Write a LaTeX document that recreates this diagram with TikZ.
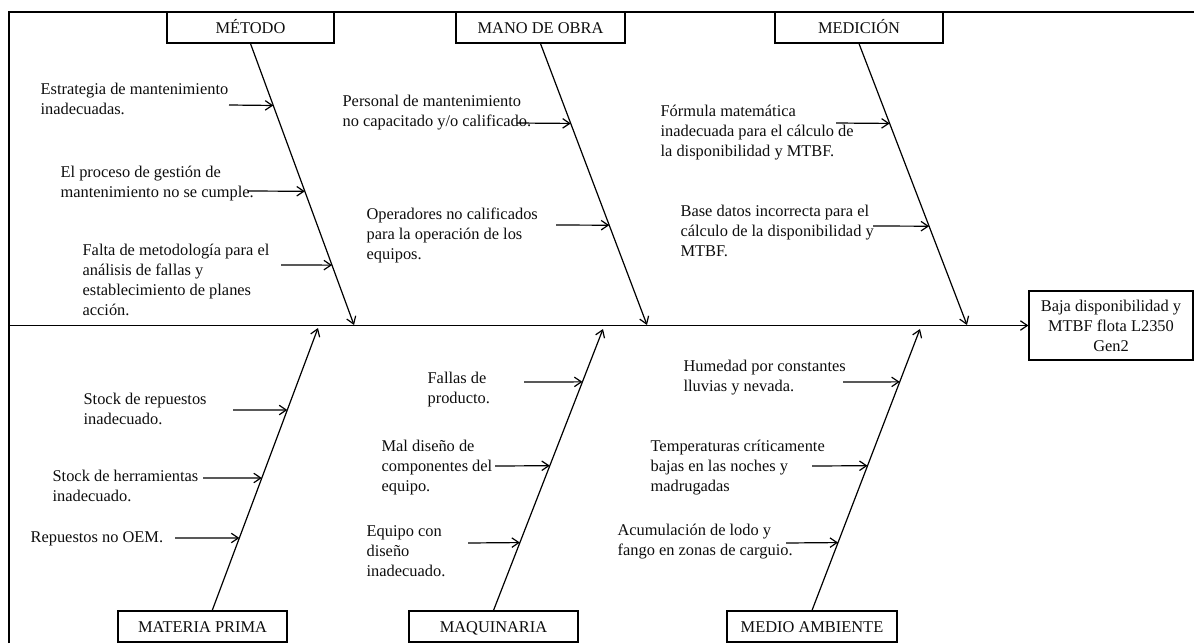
\documentclass[tikz,border=0pt]{standalone}
\usepackage{fontspec}
\setmainfont{Liberation Serif}
\usetikzlibrary{arrows.meta,calc}
\begin{document}
\begin{tikzpicture}[x=1pt,y=-1pt,
  line width=1.2pt,
  txt/.style={font=\fontsize{16.4}{20}\selectfont, text=black!95},
  catbox/.style={txt, draw, line width=1.2pt, minimum height=31pt, inner sep=0pt,
                 text height=11pt, text depth=0pt},
  cause/.style={txt, anchor=north west, inner sep=0pt, align=left,
                execute at begin node={\rule{0pt}{15pt}}},
  tip/.style={-{Straight Barb[length=7pt,width=9.5pt]}},
  bone/.style={draw, tip},
  twig/.style={draw, tip},
]
\useasboundingbox (0,0) rectangle (1194,643);

% outer frame (top and left edges)
\draw[line width=2.2pt] (9,643) -- (9,12) -- (1194,12);

% category boxes
\node[catbox, minimum width=167pt] (met)  at (250.5,27.5) {MÉTODO};
\node[catbox, minimum width=169pt] (mano) at (540.5,27.5) {MANO DE OBRA};
\node[catbox, minimum width=168pt] (med)  at (859,27.5)   {MEDICIÓN};
\node[catbox, minimum width=169pt] (mp)   at (202.5,626.5) {MATERIA PRIMA};
\node[catbox, minimum width=169pt] (maq)  at (493.5,626.5) {MAQUINARIA};
\node[catbox, minimum width=170pt] (amb)  at (812,626.5)   {MEDIO AMBIENTE};

% effect
\node[txt, draw, line width=1.2pt, align=center, inner sep=0pt,
      minimum width=164pt, minimum height=69pt] (eff) at (1111,325.5)
      {Baja disponibilidad y\\MTBF flota L2350\\Gen2};

% spine
\coordinate (spineL) at (9,325.5);
\draw[bone] (spineL) -- (eff.west);

% bone tips on the spine
\coordinate (metT)  at (354,325);
\coordinate (manoT) at (647,325);
\coordinate (medT)  at (967,325);
\coordinate (mpF)   at (212,611);
\coordinate (mpT)   at (318,328);
\coordinate (maqT)  at (603,329);
\coordinate (ambT)  at (920,329);

\draw[bone] (met.south)  -- (metT);
\draw[bone] (mano.south) -- (manoT);
\draw[bone] (med.south)  -- (medT);
\draw[bone] (mpF)        -- (mpT);
\draw[bone] (maq.north)  -- (maqT);
\draw[bone] (amb.north)  -- (ambT);

% ---- causes: Método
\node[cause] (c11) at (40,83)  {Estrategia de mantenimiento\\inadecuadas.};
\node[cause] (c12) at (60,165) {El proceso de gestión de\\mantenimiento no se cumple.};
\node[cause] (c13) at (82,243) {Falta de metodología para el\\análisis de fallas y\\establecimiento de planes\\acción.};
\coordinate (s11) at (229,105);
\coordinate (s12) at (248,191);
\coordinate (s13) at (281,265);
\draw[twig] (s11) -- ($(met.south)!0.2199!(metT)$);
\draw[twig] (s12) -- ($(met.south)!0.5248!(metT)$);
\draw[twig] (s13) -- ($(met.south)!0.7872!(metT)$);

% ---- causes: Mano de obra
\node[cause] (c21) at (342,95)  {Personal de mantenimiento\\no capacitado y/o calificado.};
\node[cause] (c22) at (366,207) {Operadores no calificados\\para la operación de los\\equipos.};
\coordinate (s21) at (517,123);
\coordinate (s22) at (556,225);
\draw[twig] (s21) -- ($(mano.south)!0.2837!(manoT)$);
\draw[twig] (s22) -- ($(mano.south)!0.6454!(manoT)$);

% ---- causes: Medición
\node[cause] (c31) at (660,104) {Fórmula matemática\\inadecuada para el cálculo de\\la disponibilidad y MTBF.};
\node[cause] (c32) at (680,205) {Base datos incorrecta para el\\cálculo de la disponibilidad y\\MTBF.};
\coordinate (s31) at (836,123);
\coordinate (s32) at (873,226);
\draw[twig] (s31) -- ($(med.south)!0.2837!(medT)$);
\draw[twig] (s32) -- ($(med.south)!0.6489!(medT)$);

% ---- causes: Materia prima
\node[cause] (c41) at (83,393) {Stock de repuestos\\inadecuado.};
\node[cause] (c42) at (52,470) {Stock de herramientas\\inadecuado.};
\node[cause] (c43) at (30,527) {Repuestos no OEM.};
\coordinate (s41) at (233,410);
\coordinate (s42) at (203,478);
\coordinate (s43) at (175,538);
\draw[twig] (s41) -- ($(mpF)!0.7102!(mpT)$);
\draw[twig] (s42) -- ($(mpF)!0.4700!(mpT)$);
\draw[twig] (s43) -- ($(mpF)!0.2580!(mpT)$);

% ---- causes: Maquinaria
\node[cause] (c51) at (427,372) {Fallas de\\producto.};
\node[cause] (c52) at (381,440) {Mal diseño de\\componentes del\\equipo.};
\node[cause] (c53) at (366,525) {Equipo con\\diseño\\inadecuado.};
\coordinate (s51) at (524,382);
\coordinate (s52) at (495,466);
\coordinate (s53) at (468,543);
\draw[twig] (s51) -- ($(maq.north)!0.8121!(maqT)$);
\draw[twig] (s52) -- ($(maq.north)!0.5142!(maqT)$);
\draw[twig] (s53) -- ($(maq.north)!0.2411!(maqT)$);

% ---- causes: Medio ambiente
\node[cause] (c61) at (683,360) {Humedad por constantes\\lluvias y nevada.};
\node[cause] (c62) at (650,439) {Temperaturas críticamente\\bajas en las noches y\\madrugadas};
\node[cause] (c63) at (617,523) {Acumulación de lodo y\\fango en zonas de carguio.};
\coordinate (s61) at (843,382);
\coordinate (s62) at (812,466);
\coordinate (s63) at (786,543);
\draw[twig] (s61) -- ($(amb.north)!0.8121!(ambT)$);
\draw[twig] (s62) -- ($(amb.north)!0.5142!(ambT)$);
\draw[twig] (s63) -- ($(amb.north)!0.2411!(ambT)$);
\end{tikzpicture}
\end{document}
